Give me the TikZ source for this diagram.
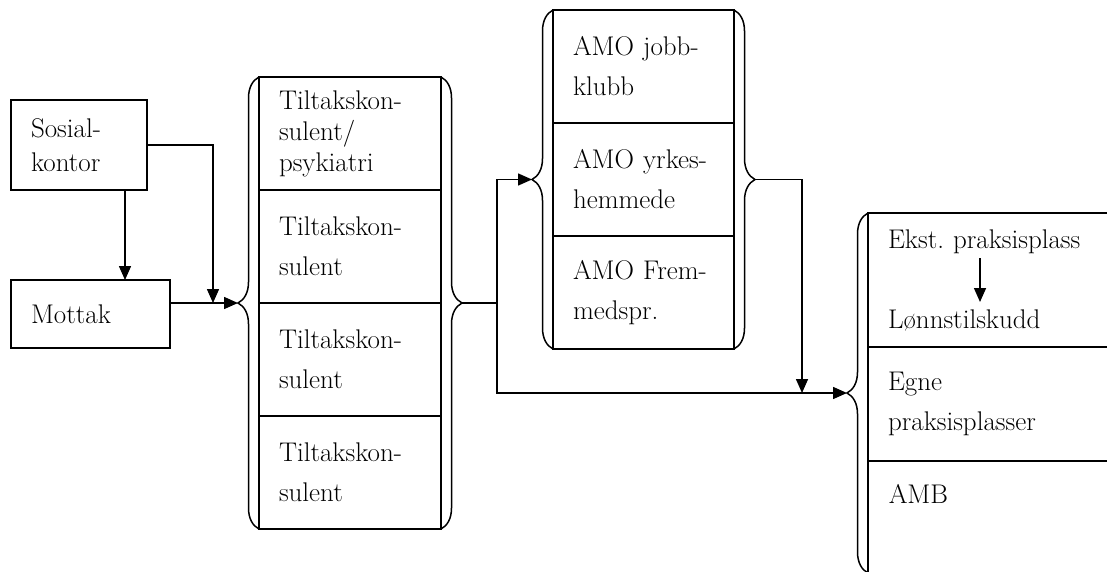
\documentclass[tikz,border=0pt]{standalone}
\usepackage{fontspec}
\usetikzlibrary{positioning,calc,arrows.meta,decorations.pathreplacing}
\begin{document}
\begin{tikzpicture}[x=1pt, y=-1pt, line width=1.5pt,
    box/.style = {draw, rectangle, outer sep=0pt, inner xsep=20pt, inner ysep=0pt, align=left, font=\fontsize{27}{34}\selectfont},
    cell/.style = {box, minimum width=182pt, text width=142pt, minimum height=113pt, font=\fontsize{27}{40}\selectfont},
    amo/.style = {cell, minimum width=181pt, text width=141pt},
    wide/.style = {cell, minimum width=312pt, text width=272pt},
    brace/.style = {decorate, decoration={brace, amplitude=21pt}},
    arr/.style = {-{Triangle[length=14pt, width=12pt]}}]
  \useasboundingbox (0,0) rectangle (1107,571);
  % intake
  \node[box, minimum width=136pt, minimum height=90pt, text width=96pt, anchor=north west] (sosial) at (11,100) {Sosial-\\kontor};
  \node[box, minimum width=159pt, minimum height=68pt, text width=119pt, below right=90pt and 0pt of sosial.south west] (mottak) {Mottak};
  % tiltakskonsulenter
  \node[cell, anchor=north west, font=\fontsize{27}{31}\selectfont] (til1) at (259,77) {Tiltakskon-\\sulent/\\psykiatri};
  \node[cell, below=0pt of til1] (til2) {Tiltakskon-\\sulent};
  \node[cell, below=0pt of til2] (til3) {Tiltakskon-\\sulent};
  \node[cell, below=0pt of til3] (til4) {Tiltakskon-\\sulent};
  % AMO
  \node[amo, anchor=north west] (amo1) at (553,10) {AMO jobb-\\klubb};
  \node[amo, below=0pt of amo1] (amo2) {AMO yrkes-\\hemmede};
  \node[amo, below=0pt of amo2] (amo3) {AMO Frem-\\medspr.};
  % praksisplasser
  \node[wide, anchor=north west, minimum height=134pt] (prak1) at (868,213) {Ekst.\ praksisplass\\[40pt]Lønnstilskudd};
  \node[wide, below=0pt of prak1, minimum height=114pt] (prak2) {Egne\\praksisplasser};
  \node[wide, below=0pt of prak2, minimum height=112pt] (prak3) {};
  \node[anchor=north west, inner sep=0pt, font=\fontsize{27}{40}\selectfont] (amb) at ([xshift=20pt, yshift=-23pt]prak3.north west) {AMB};
  % braces
  \draw[brace] (til4.south west) -- (til1.north west);
  \draw[brace] (til1.north east) -- (til4.south east);
  \draw[brace] (amo3.south west) -- (amo1.north west);
  \draw[brace] (amo1.north east) -- (amo3.south east);
  \draw[brace] (prak3.south west) -- (prak1.north west);
  \path ($(til1.north west)!.5!(til4.south west)$) ++(-21,0) coordinate (tilIn);
  \path ($(til1.north east)!.5!(til4.south east)$) ++(21,0) coordinate (tilOut);
  \path ($(amo1.north west)!.5!(amo3.south west)$) ++(-21,0) coordinate (amoIn);
  \path ($(amo1.north east)!.5!(amo3.south east)$) ++(21,0) coordinate (amoOut);
  \path ($(prak1.north west)!.5!(prak3.south west)$) ++(-21,0) coordinate (praksIn);
  \path (tilIn) ++(-25,0) coordinate (merge);
  \path (tilOut) ++(35,0) coordinate (split);
  \path (amoOut) ++(47,0) coordinate (drop);
  \path ([xshift=-22pt]sosial.south east) coordinate (sdown);
  % arrows
  \draw[arr] (sdown) -- (sdown |- mottak.north);
  \draw[arr] (sosial.east) -| (merge);
  \draw[arr] (mottak.east |- tilIn) -- (tilIn);
  \draw[arr] (tilOut) -- (split) |- (amoIn);
  \draw[arr] (split) |- (praksIn);
  \draw[arr] (amoOut) -| (drop |- praksIn);
  \draw[arr] ([xshift=-44pt, yshift=22pt]prak1.center) -- ([xshift=-44pt, yshift=-22pt]prak1.center);
\end{tikzpicture}
\end{document}
